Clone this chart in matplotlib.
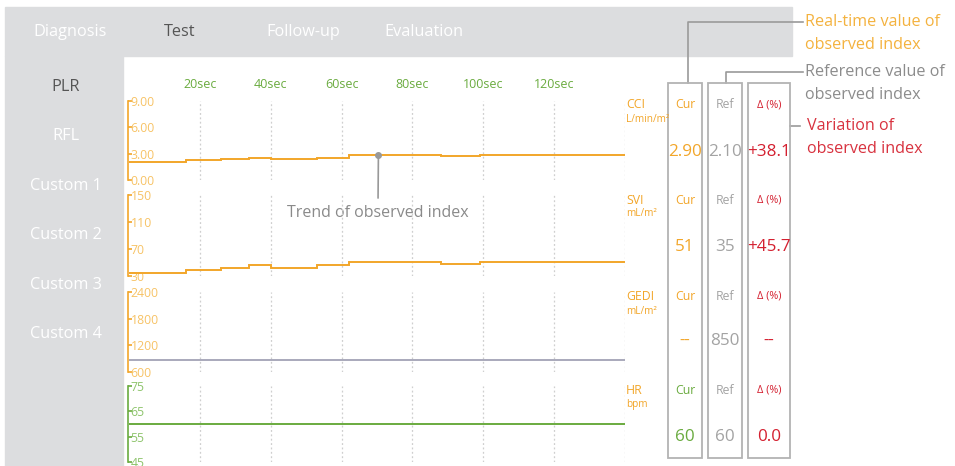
import matplotlib
matplotlib.use('Agg')
import matplotlib.pyplot as plt
from matplotlib.patches import Rectangle
from matplotlib.lines import Line2D

plt.rcParams['font.family'] = ['Open Sans', 'DejaVu Sans']

W, H = 955, 466

# data
tabs = ['Diagnosis', 'Test', 'Follow-up', 'Evaluation']
modes = ['PLR', 'RFL', 'Custom 1', 'Custom 2', 'Custom 3', 'Custom 4']

time_ticks = [20, 40, 60, 80, 100, 120, 140]
time_labels = ['20sec', '40sec', '60sec', '80sec', '100sec', '120sec', '']

step_t = [0, 16, 26, 34, 40, 53, 62, 88, 99, 140]
cci = [2.1, 2.3, 2.4, 2.5, 2.4, 2.55, 2.9, 2.75, 2.9, 2.9]
svi = [35, 39, 42, 47, 42, 46, 51, 48, 51, 51]
flat_t = [0, 140]
gedi = [880, 880]
hr = [60, 60]

names = ['CCI', 'SVI', 'GEDI', 'HR']
units = ['L/min/m²', 'mL/m²', 'mL/m²', 'bpm']
yticks = [[0, 3, 6, 9], [30, 70, 110, 150], [600, 1200, 1800, 2400], [45, 55, 65, 75]]
ytick_labels = [['0.00', '3.00', '6.00', '9.00'], ['30', '70', '110', '150'],
                ['600', '1200', '1800', '2400'], ['45', '55', '65', '75']]
cur_vals = ['2.90', '51', '--', '60']
ref_vals = ['2.10', '35', '850', '60']
delta_vals = ['+38.1', '+45.7', '--', '0.0']

ORANGE = '#f2a62a'
ORANGE_L = '#f7c366'
GREEN = '#6aab3f'
GREEN_L = '#8ec46c'
RED = '#d42030'
GRAY = '#a3a3a3'
PANEL = '#dcdddf'


def fx(x):
    return x / W


def fy(y):
    return 1 - y / H


fig = plt.figure(figsize=(W / 100, H / 100), dpi=100)
fig.patch.set_facecolor('white')

# header bar + sidebar
fig.patches.append(Rectangle((fx(5), fy(56)), fx(792 - 5), (56 - 7) / H,
                             transform=fig.transFigure, color=PANEL, zorder=0))
fig.patches.append(Rectangle((fx(5), 0), fx(123 - 5), fy(56),
                             transform=fig.transFigure, color=PANEL, zorder=0))

for x, t in zip([70, 180, 303, 424], tabs):
    c = '#555555' if t == 'Test' else 'white'
    fig.text(fx(x), fy(31.5), t, color=c, fontsize=11.7, ha='center', va='center')

for y, m in zip([87, 136, 186, 235, 285, 334], modes):
    c = '#555555' if m == 'PLR' else 'white'
    fig.text(fx(66), fy(y), m, color=c, fontsize=11.7, ha='center', va='center')

# trend panels
panels = [(101, 180), (195, 276), (292, 372), (386, 462)]
series = [(step_t, cci, ORANGE), (step_t, svi, ORANGE), (flat_t, gedi, '#a9a9bb'), (flat_t, hr, GREEN)]
axes = []
for i, (top, bot) in enumerate(panels):
    ax = fig.add_axes([fx(129), fy(bot), (625 - 129) / W, (bot - top) / H])
    ax.patch.set_alpha(0)
    t, v, lc = series[i]
    ax.plot(t, v, color=lc, lw=1.4, drawstyle='steps-post', solid_joinstyle='miter')
    ax.set_xlim(0, 140)
    ax.set_ylim(yticks[i][0], yticks[i][-1])
    for s in ['top', 'right', 'bottom']:
        ax.spines[s].set_visible(False)
    sc = GREEN if i == 3 else ORANGE
    lab_c = GREEN_L if i == 3 else ORANGE_L
    ax.spines['left'].set_color(sc)
    ax.spines['left'].set_linewidth(1.2)
    ax.spines['left'].set_position(('outward', 1))
    ax.set_yticks(yticks[i])
    ax.set_yticklabels(ytick_labels[i])
    ax.tick_params(axis='y', direction='in', length=3, width=1.2, color=sc,
                   labelcolor=lab_c, labelsize=8.8, pad=-2)
    for lab in ax.get_yticklabels():
        lab.set_ha('left')
    ax.set_xticks(time_ticks)
    ax.grid(axis='x', color='#cfcfcf', lw=0.9, linestyle=(0, (1.5, 2)))
    if i == 0:
        ax.xaxis.set_ticks_position('top')
        ax.set_xticklabels(time_labels)
        ax.tick_params(axis='x', length=0, labelcolor=GREEN, labelsize=9, pad=7)
    else:
        ax.tick_params(axis='x', length=0, labelbottom=False)
    axes.append(ax)

# right-hand names and units
name_y = [105, 200, 297, 390]
unit_y = [120, 214, 311, 405]
for i in range(4):
    fig.text(fx(626), fy(name_y[i]), names[i], color=ORANGE, fontsize=8.8, va='center', ha='left')
    fig.text(fx(626), fy(unit_y[i]), units[i], color=ORANGE, fontsize=7.2, va='center', ha='left')

# trend annotation
axes[0].plot([70.4], [2.9], 'o', color='#999999', ms=4, zorder=5)
axes[0].annotate('Trend of observed index', xy=(70.4, 2.9), xycoords='data',
                 xytext=(fx(378), fy(213)), textcoords='figure fraction',
                 ha='center', va='center', color='#8a8a8a', fontsize=11.5,
                 annotation_clip=False,
                 arrowprops=dict(arrowstyle='-', color='#999999', lw=1.2,
                                 shrinkA=3, shrinkB=0, relpos=(0.5, 1)))

# value boxes
cols = [(668, 702), (708, 742), (748, 790)]
for x0, x1 in cols:
    fig.patches.append(Rectangle((fx(x0), fy(458)), (x1 - x0) / W, (458 - 83) / H,
                                 transform=fig.transFigure, fill=False,
                                 edgecolor='#b3b3b3', lw=1.3, zorder=2))

head_y = [105, 200, 296, 390]
val_y = [152, 247, 341, 437]
for i in range(4):
    cc = GREEN if i == 3 else ORANGE
    fig.text(fx(685), fy(head_y[i]), 'Cur', color=cc, fontsize=8.8, ha='center', va='center')
    fig.text(fx(725), fy(head_y[i]), 'Ref', color=GRAY, fontsize=8.8, ha='center', va='center')
    fig.text(fx(769), fy(head_y[i]), 'Δ (%)', color=RED, fontsize=7.8, ha='center', va='center')
    fig.text(fx(685), fy(val_y[i]), cur_vals[i], color=cc, fontsize=12.3, ha='center', va='center')
    fig.text(fx(725), fy(val_y[i]), ref_vals[i], color=GRAY, fontsize=12.3, ha='center', va='center')
    fig.text(fx(769), fy(val_y[i]), delta_vals[i], color=RED, fontsize=12.3, ha='center', va='center')

# callouts
lead = '#9a9a9a'
for pts in [[(688, 83), (688, 22), (803, 22)],
            [(726, 83), (726, 72), (803, 72)],
            [(790, 126), (800, 126)]]:
    fig.lines.append(Line2D([fx(p[0]) for p in pts], [fy(p[1]) for p in pts],
                            transform=fig.transFigure, color=lead, lw=1.2))

callouts = [(['Real-time value of', 'observed index'], [22, 45], '#f4b23e', 805),
            (['Reference value of', 'observed index'], [72, 95], '#8c8c8c', 805),
            (['Variation of', 'observed index'], [126, 149], '#d8323f', 807)]
for lines, ys, c, x in callouts:
    for txt, y in zip(lines, ys):
        fig.text(fx(x), fy(y), txt, color=c, fontsize=11.6, ha='left', va='center')

plt.savefig('out.png', dpi=100)
